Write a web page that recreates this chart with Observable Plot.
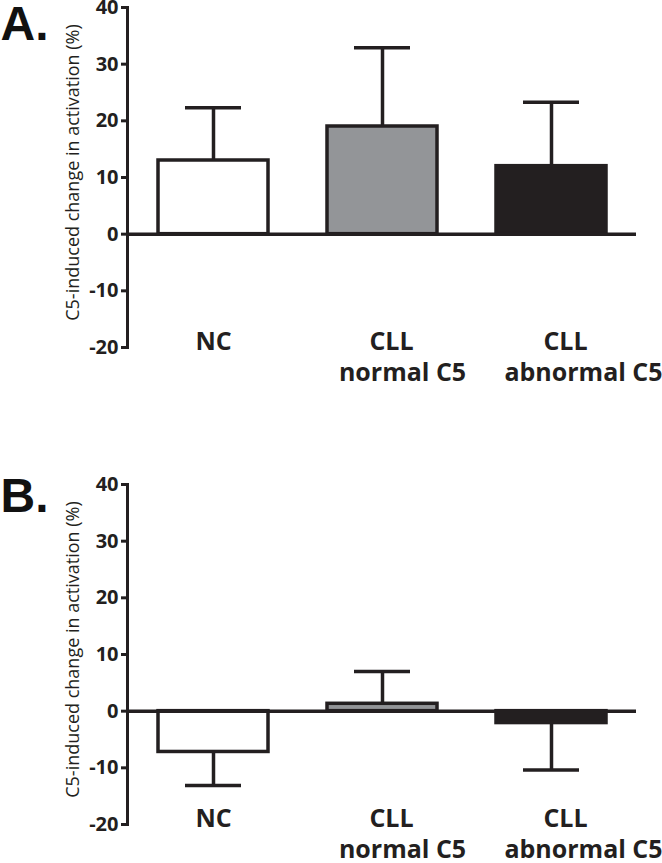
<!DOCTYPE html>
<html><head><meta charset="utf-8">
<script src="https://cdn.jsdelivr.net/npm/d3@7"></script>
<script src="https://cdn.jsdelivr.net/npm/@observablehq/plot@0.6"></script>
<style>body{margin:0;background:#fff;overflow:hidden} #chart svg{display:block;overflow:visible}</style>
</head><body><div id="chart"></div>
<script>
const groups = ["NC", "CLL normal C5", "CLL abnormal C5"];
const labelLine1 = ["NC", "CLL", "CLL"];
const labelLine2 = ["", "normal C5", "abnormal C5"];
const fills = ["#ffffff", "#939598", "#231f20"];
const meanA = [13.0, 19.0, 12.0];
const semA = [9.3, 13.9, 11.3];
const meanB = [-7.2, 1.3, -2.1];
const semB = [5.9, 5.7, 8.3];
const yTicks = [-20, -10, 0, 10, 20, 30, 40];
const yLabel = "C5-induced change in activation (%)";
const ink = "#231f20";
// small horizontal nudges of the category labels, as set in the original figure
const nudge1 = [0, 9, 14];
const nudge2 = [0, 20, 32];

function panel(mean, sem, letter, o) {
  const data = groups.map((g, i) => ({
    group: g, mean: mean[i],
    end: mean[i] + Math.sign(mean[i]) * sem[i], fill: fills[i]
  }));
  const labelStyle = {frameAnchor: "bottom", lineAnchor: "middle", textAnchor: "middle",
                      fontSize: 25, fontWeight: "bold", fill: ink};
  const labels = groups.flatMap((g, i) => [
    Plot.text([g], {x: d => d, text: () => labelLine1[i], dy: -6, dx: nudge1[i], ...labelStyle}),
    Plot.text([g], {x: d => d, text: () => labelLine2[i], dy: 25, dx: nudge2[i], ...labelStyle})
  ]);
  return Plot.plot({
    width: 662, height: o.height,
    marginTop: o.top, marginBottom: o.height - o.top - 340,
    marginLeft: 127, marginRight: 26,
    style: {fontFamily: "'Open Sans', sans-serif", background: "white", overflow: "visible"},
    x: {domain: groups, paddingInner: 0.35, paddingOuter: 0.175, axis: null},
    y: {domain: [-20, 40], axis: null, label: null},
    color: {type: "identity"},
    marks: [
      Plot.ruleX(data, {x: "group", y1: "mean", y2: "end", stroke: ink, strokeWidth: 3.5}),
      Plot.tickY(data, {x: "group", y: "end", insetLeft: 27, insetRight: 27, stroke: ink, strokeWidth: 3.5}),
      Plot.barY(data, {x: "group", y: "mean", fill: "fill", stroke: ink, strokeWidth: 3.5}),
      Plot.ruleY([0], {stroke: ink, strokeWidth: 3.5}),
      Plot.axisY({ticks: yTicks, tickSize: 6, tickPadding: 3, strokeWidth: 3, stroke: ink, fill: ink,
                  tickFormat: d => String(d),
                  fontSize: 20, fontWeight: "bold", label: null}),
      Plot.frame({anchor: "left", stroke: ink, strokeWidth: 3}),
      ...labels,
      Plot.text([yLabel], {frameAnchor: "left", rotate: -90, dx: -54, dy: -5, textAnchor: "middle",
                           lineAnchor: "middle", fontSize: 18, fill: ink}),
      Plot.text([letter], {frameAnchor: "top-left", dx: -127, dy: o.letterDy, textAnchor: "start",
                           lineAnchor: "top", fontSize: 48, fontWeight: "bold",
                           fontFamily: "'Liberation Sans', Arial, sans-serif", fill: "#111"})
    ]
  });
}

const el = document.getElementById("chart");
el.append(panel(meanA, semA, "A.", {height: 431, top: 7, letterDy: -2}));
el.append(panel(meanB, semB, "B.", {height: 432, top: 53, letterDy: -7}));
</script></body></html>
